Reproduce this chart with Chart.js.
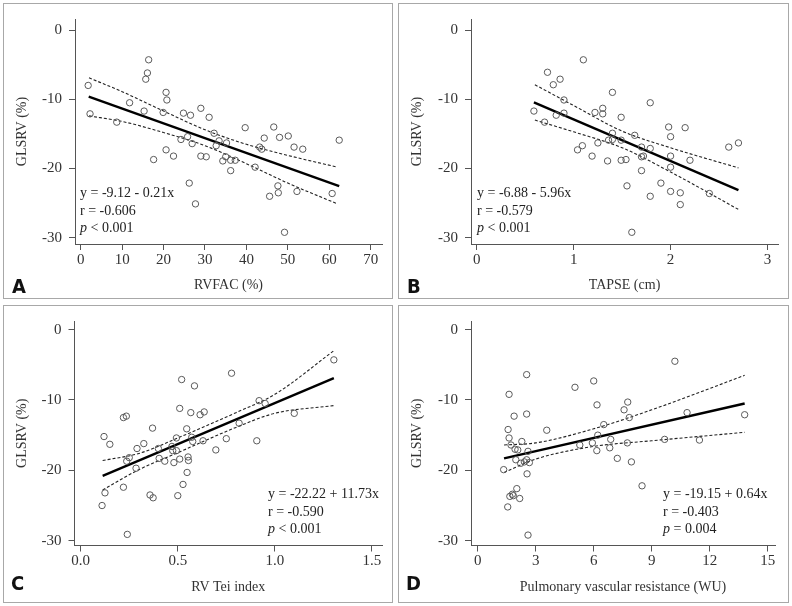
<!DOCTYPE html>
<html><head><meta charset="utf-8">
<script src="https://cdn.jsdelivr.net/npm/chart.js@4.4.0/dist/chart.umd.min.js"></script>
<style>
html,body{margin:0;padding:0;background:#fff;}
body{width:792px;height:606px;position:relative;overflow:hidden;font-family:"Liberation Serif",serif;}
.panel{position:absolute;box-sizing:border-box;border:1.5px solid #a8a8a8;}
canvas{position:absolute;}
.eq{position:absolute;font-size:14px;line-height:17.5px;color:#222;white-space:nowrap;font-family:"Liberation Serif",serif;}
.letter{position:absolute;font-family:"Liberation Sans Narrow","DejaVu Sans Condensed",sans-serif;font-weight:bold;font-size:20px;line-height:20px;color:#111;}
</style>
</head><body>
<div class="panel" style="left:3px;top:3px;width:390px;height:296px"></div>
<div class="panel" style="left:398px;top:3px;width:391px;height:296px"></div>
<div class="panel" style="left:3px;top:305px;width:390px;height:298px"></div>
<div class="panel" style="left:398px;top:305px;width:391px;height:298px"></div>
<canvas id="cA" width="390" height="296" style="left:3px;top:3px"></canvas>
<canvas id="cB" width="391" height="296" style="left:398px;top:3px"></canvas>
<canvas id="cC" width="390" height="298" style="left:3px;top:305px"></canvas>
<canvas id="cD" width="391" height="298" style="left:398px;top:305px"></canvas>
<div class="eq" style="left:80px;top:184px">y = -9.12 - 0.21x<br>r = -0.606<br><i>p</i> &lt; 0.001</div>
<div class="eq" style="left:477px;top:184px">y = -6.88 - 5.96x<br>r = -0.579<br><i>p</i> &lt; 0.001</div>
<div class="eq" style="left:268px;top:485px">y = -22.22 + 11.73x<br>r = -0.590<br><i>p</i> &lt; 0.001</div>
<div class="eq" style="left:663px;top:485px">y = -19.15 + 0.64x<br>r = -0.403<br><i>p</i> = 0.004</div>
<div class="letter" style="left:12px;top:276px">A</div>
<div class="letter" style="left:407px;top:276px">B</div>
<div class="letter" style="left:11px;top:573px">C</div>
<div class="letter" style="left:406px;top:573px">D</div>
<script>
// ---------- Data ----------
const yTicks = [0, -10, -20, -30];
const yTitle = 'GLSRV (%)';

// Panel A: RVFAC
const aXTicks = [0, 10, 20, 30, 40, 50, 60, 70];
const aXLabels = ['0', '10', '20', '30', '40', '50', '60', '70'];
const aX = [1.8, 2.25, 8.7, 11.8, 15.3, 15.7, 16.1, 16.4, 17.6, 19.9, 20.6, 20.8, 20.6, 22.4, 24.2, 24.8, 25.8, 26.2, 26.5, 26.9, 27.7, 29.0, 29.0, 30.3, 31.0, 32.2, 32.7, 33.4, 34.3, 35.0, 35.2, 36.2, 36.2, 37.3, 39.7, 42.1, 43.2, 43.7, 44.3, 45.6, 46.6, 47.6, 47.7, 48.0, 49.2, 50.1, 51.5, 52.2, 53.6, 60.7, 62.4];
const aY = [-8.0, -12.1, -13.3, -10.5, -11.7, -7.1, -6.2, -4.3, -18.7, -11.9, -9.0, -10.1, -17.3, -18.2, -15.8, -12.0, -15.4, -22.1, -12.3, -16.4, -25.1, -11.3, -18.2, -18.3, -12.6, -14.9, -16.7, -16.0, -18.9, -18.3, -16.3, -20.3, -18.8, -18.8, -14.1, -19.8, -16.9, -17.2, -15.6, -24.0, -14.0, -22.5, -23.5, -15.5, -29.2, -15.3, -16.9, -23.3, -17.2, -23.6, -15.9];
const aFitX = [1.93, 62.4];
const aFitY = [-9.6, -22.55];
const aCiX = [2, 10, 20, 30, 40, 50, 62];
const aCiUp = [-6.9, -8.9, -11.7, -14.4, -16.5, -18.1, -19.8];
const aCiLo = [-12.4, -13.2, -14.8, -16.7, -19.3, -22.1, -25.1];

// Panel B: TAPSE
const bXTicks = [0, 1, 2, 3];
const bXLabels = ['0', '1', '2', '3'];
const bX = [0.59, 0.70, 0.73, 0.79, 0.82, 0.86, 0.90, 0.90, 1.04, 1.09, 1.10, 1.19, 1.22, 1.25, 1.30, 1.30, 1.35, 1.36, 1.40, 1.40, 1.40, 1.49, 1.49, 1.49, 1.54, 1.55, 1.60, 1.63, 1.70, 1.70, 1.70, 1.72, 1.79, 1.79, 1.79, 1.90, 1.98, 2.00, 2.00, 2.00, 2.00, 2.10, 2.10, 2.15, 2.20, 2.40, 2.60, 2.70];
const bY = [-11.7, -13.3, -6.1, -7.9, -12.3, -7.1, -10.1, -12.0, -17.3, -16.7, -4.3, -18.2, -11.9, -16.3, -11.3, -12.1, -18.9, -15.9, -9.0, -14.9, -15.8, -12.6, -15.9, -18.8, -18.7, -22.5, -29.2, -15.2, -16.9, -20.3, -18.3, -18.2, -17.1, -10.5, -24.0, -22.1, -14.0, -15.4, -18.2, -19.8, -23.3, -23.5, -25.2, -14.1, -18.8, -23.6, -16.9, -16.3];
const bFitX = [0.59, 2.70];
const bFitY = [-10.45, -23.1];
const bCiX = [0.6, 1.0, 1.5, 2.0, 2.7];
const bCiUp = [-7.9, -10.9, -14.6, -17.0, -19.9];
const bCiLo = [-13.0, -14.7, -17.0, -20.5, -25.9];

// Panel C: RV Tei index
const cXTicks = [0, 0.5, 1.0, 1.5];
const cXLabels = ['0.0', '0.5', '1.0', '1.5'];
const cX = [0.11, 0.12, 0.125, 0.15, 0.22, 0.22, 0.235, 0.237, 0.24, 0.25, 0.285, 0.29, 0.325, 0.357, 0.37, 0.373, 0.40, 0.404, 0.433, 0.47, 0.474, 0.48, 0.493, 0.493, 0.50, 0.51, 0.51, 0.52, 0.527, 0.546, 0.548, 0.553, 0.555, 0.567, 0.572, 0.577, 0.586, 0.615, 0.63, 0.636, 0.696, 0.75, 0.777, 0.816, 0.907, 0.919, 0.95, 1.10, 1.304];
const cY = [-25.0, -15.2, -23.2, -16.3, -12.5, -22.4, -12.3, -18.7, -29.1, -18.2, -19.7, -16.9, -16.2, -23.5, -14.0, -23.9, -16.9, -18.3, -18.7, -16.6, -17.2, -18.9, -15.4, -17.2, -23.6, -11.2, -18.4, -7.1, -22.0, -14.1, -20.3, -18.1, -18.6, -11.8, -15.3, -15.9, -8.0, -12.1, -15.8, -11.7, -17.1, -15.5, -6.2, -13.3, -15.8, -10.1, -10.5, -11.9, -4.3];
const cFitX = [0.113, 1.304];
const cFitY = [-20.8, -6.9];
const cCiX = [0.113, 0.3, 0.5, 0.8, 1.0, 1.304];
const cCiUp = [-18.6, -17.6, -15.4, -11.8, -9.2, -3.0];
const cCiLo = [-22.8, -19.9, -17.5, -13.9, -11.9, -10.8];

// Panel D: Pulmonary vascular resistance
const dXTicks = [0, 3, 6, 9, 12, 15];
const dXLabels = ['0', '3', '6', '9', '12', '15'];
const dX = [1.34, 1.55, 1.57, 1.62, 1.62, 1.66, 1.72, 1.79, 1.84, 1.88, 1.93, 1.97, 2.02, 2.07, 2.17, 2.22, 2.28, 2.41, 2.53, 2.53, 2.53, 2.55, 2.60, 2.60, 2.67, 3.57, 5.03, 5.28, 5.93, 6.0, 6.16, 6.17, 6.21, 6.52, 6.83, 6.88, 7.22, 7.57, 7.74, 7.76, 7.84, 7.95, 8.5, 9.67, 10.2, 10.83, 11.47, 13.81];
const dY = [-19.9, -25.2, -14.2, -9.2, -15.4, -23.7, -16.4, -23.4, -23.6, -12.3, -17.0, -18.5, -22.6, -17.1, -24.0, -19.0, -15.9, -18.8, -6.4, -12.0, -18.5, -20.5, -17.3, -29.2, -18.9, -14.3, -8.2, -16.4, -16.1, -7.3, -17.2, -10.7, -15.0, -13.5, -16.8, -15.6, -18.3, -11.4, -16.1, -10.3, -12.5, -18.8, -22.2, -15.6, -4.5, -11.8, -15.7, -12.1];
const dFitX = [1.36, 13.81];
const dFitY = [-18.3, -10.5];
const dCiX = [1.36, 3, 6, 9, 13.81];
const dCiUp = [-16.4, -16.1, -14.1, -11.4, -6.5];
const dCiLo = [-20.3, -18.4, -16.6, -15.8, -14.6];

// ---------- Rendering ----------
const FONT = '"Liberation Serif", serif';
const zip = (xs, ys) => xs.map((x, i) => ({x: x, y: ys[i]}));

function makePanel(id, box, geo, xTicks, xLabels, xTitle, xs, ys, fitX, fitY, ciX, ciUp, ciLo) {
  const yW = geo.left - (geo.yTitleX - 8.4);
  const xH = geo.xTitleY + 8.4 - geo.bottom;
  const pad = {
    left: geo.yTitleX - 8.4 - box.x,
    top: geo.top - box.y,
    right: box.x + box.w - geo.right,
    bottom: box.y + box.h - (geo.xTitleY + 8.4)
  };
  const tickFont = {family: FONT, size: 15};
  const axisColor = '#555';
  new Chart(document.getElementById(id), {
    type: 'scatter',
    data: {
      datasets: [
        {data: zip(xs, ys), pointStyle: 'circle', pointRadius: 3.2, borderColor: '#5a5a5a', borderWidth: 1, backgroundColor: 'rgba(0,0,0,0)', showLine: false},
        {data: zip(fitX, fitY), showLine: true, borderColor: '#000', borderWidth: 2.4, pointRadius: 0},
        {data: zip(ciX, ciUp), showLine: true, borderColor: '#222', borderWidth: 1.1, borderDash: [3, 2], pointRadius: 0, cubicInterpolationMode: 'monotone'},
        {data: zip(ciX, ciLo), showLine: true, borderColor: '#222', borderWidth: 1.1, borderDash: [3, 2], pointRadius: 0, cubicInterpolationMode: 'monotone'}
      ]
    },
    options: {
      responsive: false, animation: false, devicePixelRatio: 1,
      layout: {padding: pad},
      plugins: {legend: {display: false}, tooltip: {enabled: false}},
      scales: {
        x: {
          type: 'linear', min: geo.xMin, max: geo.xMax,
          afterFit: s => { s.height = xH; },
          afterBuildTicks: s => { s.ticks = xTicks.map(v => ({value: v})); },
          ticks: {callback: (v, i) => xLabels[i], font: tickFont, color: '#333', padding: 1, maxRotation: 0, autoSkip: false},
          grid: {display: true, drawOnChartArea: false, drawTicks: true, tickLength: 6, color: axisColor},
          border: {display: true, color: axisColor, width: 1},
          title: {display: true, text: xTitle, font: {family: FONT, size: 14}, color: '#333', padding: 0}
        },
        y: {
          type: 'linear', min: geo.yMin, max: geo.yMax,
          afterFit: s => { s.width = yW; },
          afterBuildTicks: s => { s.ticks = yTicks.map(v => ({value: v})); },
          ticks: {callback: v => String(v), font: tickFont, color: '#333', padding: 7, autoSkip: false},
          grid: {display: true, drawOnChartArea: false, drawTicks: true, tickLength: 6, color: axisColor},
          border: {display: true, color: axisColor, width: 1},
          title: {display: true, text: yTitle, font: {family: FONT, size: 14}, color: '#333', padding: 0}
        }
      }
    }
  });
}

makePanel('cA', {x: 3, y: 3, w: 390, h: 296},
  {left: 75, top: 13, right: 382, bottom: 244, xMin: -1.38, xMax: 72.73, yMin: -30.89, yMax: 1.59, yTitleX: 22, xTitleY: 285},
  aXTicks, aXLabels, 'RVFAC (%)', aX, aY, aFitX, aFitY, aCiX, aCiUp, aCiLo);

makePanel('cB', {x: 398, y: 3, w: 391, h: 296},
  {left: 471, top: 13, right: 778, bottom: 244, xMin: -0.059, xMax: 3.108, yMin: -30.89, yMax: 1.59, yTitleX: 417, xTitleY: 285},
  bXTicks, bXLabels, 'TAPSE (cm)', bX, bY, bFitX, bFitY, bCiX, bCiUp, bCiLo);

makePanel('cC', {x: 3, y: 305, w: 390, h: 298},
  {left: 74.5, top: 318, right: 382, bottom: 545.5, xMin: -0.032, xMax: 1.552, yMin: -30.68, yMax: 1.22, yTitleX: 22, xTitleY: 587},
  cXTicks, cXLabels, 'RV Tei index', cX, cY, cFitX, cFitY, cCiX, cCiUp, cCiLo);

makePanel('cD', {x: 398, y: 305, w: 391, h: 298},
  {left: 471, top: 318, right: 775, bottom: 545.5, xMin: -0.35, xMax: 15.38, yMin: -30.68, yMax: 1.22, yTitleX: 417, xTitleY: 587},
  dXTicks, dXLabels, 'Pulmonary vascular resistance (WU)', dX, dY, dFitX, dFitY, dCiX, dCiUp, dCiLo);
</script>
</body></html>
